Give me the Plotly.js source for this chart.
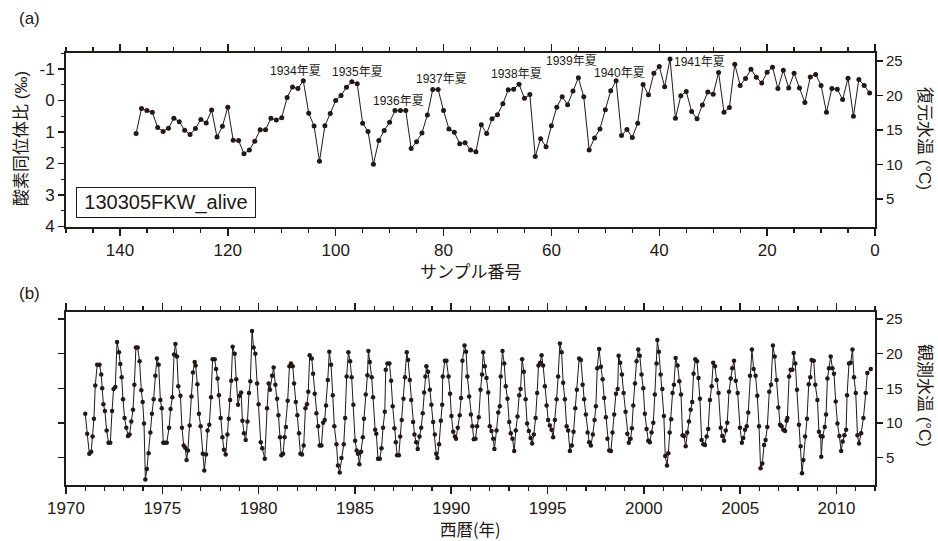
<!DOCTYPE html>
<html><head><meta charset="utf-8">
<script src="https://cdn.plot.ly/plotly-3.0.1.min.js"></script>
<style>html,body{margin:0;padding:0;background:#fff}#chart{width:938px;height:541px}</style>
</head><body><div id="chart"></div>
<script>
// ---- Panel (a): oxygen isotope ratio by sample number ----
const sampleNo = [137,136,135,134,133,132,131,130,129,128,127,126,125,124,123,122,121,120,119,118,117,116,115,114,113,112,111,110,109,108,107,106,105,104,103,102,101,100,
99,98,97,96,95,94,93,92,91,90,89,88,87,86,85,84,83,82,81,80,79,78,77,76,75,74,73,72,71,70,69,68,67,66,65,64,63,62,61,60,59,58,57,56,55,54,53,52,51,
50,49,48,47,46,45,44,43,42,41,40,39,38,37,36,35,34,33,32,31,30,29,28,27,26,25,24,23,22,21,20,19,18,17,16,15,14,13,12,11,10,9,8,7,6,5,4,3,2,1];
const d18O = [1.05,0.25,0.32,0.37,0.86,0.98,0.88,0.56,0.67,0.94,1.08,0.89,0.60,0.71,0.30,1.16,0.82,0.21,1.26,1.27,1.69,1.57,1.29,0.93,0.93,0.56,0.62,0.55,-0.10,-0.43,-0.38,-0.63,0.40,0.81,1.93,0.80,0.41,0.00,
-0.16,-0.42,-0.60,-0.53,0.72,0.98,2.02,1.27,0.95,0.69,0.32,0.32,0.32,1.52,1.31,1.03,0.46,-0.35,-0.35,0.32,0.90,1.01,1.37,1.34,1.57,1.63,0.77,1.05,0.58,0.45,0.10,-0.34,-0.36,-0.52,-0.07,-0.19,1.78,1.21,1.47,0.80,0.21,-0.12,0.13,-0.30,-0.72,-0.12,1.57,1.19,0.90,
0.29,-0.31,-0.63,1.11,0.92,1.17,0.72,-0.51,-0.18,-0.87,-1.08,-0.44,-1.32,0.56,-0.15,-0.29,0.35,0.58,0.14,-0.27,-0.20,-0.89,0.37,0.22,-1.15,-0.48,-0.70,-0.99,-0.74,-0.56,-0.90,-1.06,-0.38,-0.96,-0.40,-0.87,-0.40,0.06,-0.75,-0.83,-0.48,0.37,-0.38,-0.36,-0.03,-0.71,0.50,-0.67,-0.48,-0.24];
const seasonText = ["1934年夏","1935年夏","1936年夏","1937年夏","1938年夏","1939年夏","1940年夏","1941年夏"];
const seasonX = [107.5,95.9,88.4,80.3,66.4,56.2,47.3,32.6];
const seasonY = [-0.95,-0.89,0.0,-0.68,-0.85,-1.24,-0.87,-1.21];

// ---- Panel (b): observed water temperature ----
const bYear = [1971.00,1971.10,1971.21,1971.31,1971.38,1971.45,1971.52,1971.62,1971.74,1971.83,1971.88,1971.94,
1972.02,1972.11,1972.21,1972.30,1972.39,1972.47,1972.56,1972.65,1972.75,1972.82,1972.89,1972.96,
1973.04,1973.13,1973.22,1973.30,1973.39,1973.48,1973.55,1973.63,1973.72,1973.82,1973.91,1973.98,
1974.05,1974.12,1974.20,1974.29,1974.38,1974.46,1974.55,1974.64,1974.72,1974.81,1974.90,1974.97,
1975.05,1975.14,1975.23,1975.35,1975.43,1975.52,1975.61,1975.68,1975.76,1975.83,1975.94,
1976.02,1976.11,1976.19,1976.26,1976.33,1976.42,1976.51,1976.59,1976.68,1976.73,1976.82,1976.90,1976.99,
1977.10,1977.18,1977.27,1977.35,1977.44,1977.53,1977.61,1977.72,1977.79,1977.87,1977.94,
1978.03,1978.12,1978.20,1978.29,1978.38,1978.45,1978.52,1978.58,1978.65,1978.76,1978.84,1978.93,
1979.02,1979.09,1979.16,1979.24,1979.33,1979.42,1979.50,1979.57,1979.66,1979.74,1979.83,1979.92,
1980.00,1980.11,1980.19,1980.32,1980.44,1980.52,1980.59,1980.70,1980.78,1980.87,1980.96,
1981.03,1981.11,1981.18,1981.27,1981.35,1981.42,1981.51,1981.60,1981.68,1981.77,1981.84,1981.93,
1982.01,1982.10,1982.17,1982.25,1982.34,1982.43,1982.51,1982.58,1982.65,1982.76,1982.83,1982.91,
1983.00,1983.09,1983.17,1983.26,1983.35,1983.43,1983.50,1983.59,1983.67,1983.76,1983.85,1983.93,
1984.04,1984.12,1984.21,1984.30,1984.42,1984.49,1984.57,1984.66,1984.75,1984.83,1984.92,
1985.01,1985.09,1985.16,1985.23,1985.32,1985.41,1985.47,1985.56,1985.65,1985.70,1985.77,1985.87,1985.94,
1986.05,1986.11,1986.20,1986.29,1986.38,1986.46,1986.55,1986.60,1986.69,1986.79,1986.88,1986.96,
1987.05,1987.12,1987.19,1987.28,1987.35,1987.43,1987.52,1987.60,1987.69,1987.76,1987.85,1987.92,
1988.02,1988.09,1988.18,1988.26,1988.35,1988.44,1988.52,1988.59,1988.66,1988.71,1988.80,1988.89,1988.97,
1989.06,1989.15,1989.22,1989.28,1989.37,1989.46,1989.53,1989.56,1989.67,1989.75,1989.86,1989.94,
1990.01,1990.10,1990.19,1990.25,1990.34,1990.44,1990.51,1990.58,1990.69,1990.77,1990.84,1990.93,
1991.02,1991.10,1991.17,1991.26,1991.34,1991.43,1991.52,1991.60,1991.66,1991.74,1991.83,1991.92,
1992.00,1992.09,1992.18,1992.24,1992.35,1992.44,1992.52,1992.57,1992.66,1992.75,1992.83,1992.92,
1993.01,1993.09,1993.18,1993.27,1993.35,1993.44,1993.53,1993.60,1993.68,1993.77,1993.86,1993.94,
1994.03,1994.12,1994.20,1994.29,1994.38,1994.46,1994.53,1994.62,1994.69,1994.77,1994.86,1994.95,
1995.03,1995.12,1995.21,1995.29,1995.38,1995.47,1995.55,1995.64,1995.73,1995.81,1995.90,1995.99,
1996.07,1996.16,1996.26,1996.35,1996.44,1996.52,1996.64,1996.73,1996.82,1996.90,1996.99,
1997.08,1997.16,1997.25,1997.35,1997.44,1997.51,1997.58,1997.68,1997.77,1997.86,1997.94,
1998.03,1998.11,1998.20,1998.29,1998.37,1998.46,1998.55,1998.64,1998.69,1998.77,1998.86,1998.95,
1999.05,1999.14,1999.22,1999.31,1999.38,1999.45,1999.54,1999.62,1999.71,1999.79,1999.88,1999.97,
2000.05,2000.14,2000.23,2000.31,2000.40,2000.49,2000.57,2000.66,2000.70,2000.78,2000.87,2000.96,
2001.04,2001.11,2001.20,2001.27,2001.34,2001.42,2001.49,2001.56,2001.65,2001.75,2001.84,2001.93,
2002.01,2002.08,2002.17,2002.25,2002.34,2002.43,2002.51,2002.58,2002.67,2002.76,2002.84,2002.91,
2003.00,2003.09,2003.17,2003.26,2003.34,2003.43,2003.52,2003.60,2003.69,2003.78,2003.88,2003.99,
2004.07,2004.16,2004.25,2004.33,2004.42,2004.51,2004.59,2004.68,2004.77,2004.87,2004.99,
2005.09,2005.16,2005.25,2005.34,2005.42,2005.51,2005.61,2005.70,2005.80,2005.89,2005.98,
2006.06,2006.15,2006.24,2006.32,2006.41,2006.51,2006.60,2006.70,2006.79,2006.89,2006.98,
2007.07,2007.15,2007.24,2007.33,2007.41,2007.45,2007.54,2007.62,2007.71,2007.78,2007.86,2007.95,
2008.05,2008.14,2008.21,2008.28,2008.37,2008.47,2008.56,2008.64,2008.71,2008.82,2008.90,
2009.01,2009.09,2009.18,2009.21,2009.28,2009.39,2009.46,2009.53,2009.61,2009.70,2009.79,2009.87,2009.96,
2010.05,2010.15,2010.24,2010.32,2010.41,2010.50,2010.55,2010.65,2010.74,2010.83,2010.91,
2011.00,2011.09,2011.17,2011.28,2011.40,2011.52,2011.60,2011.78];
const bTemp = [11.3,8.4,5.5,5.8,8.0,10.6,15.4,18.4,18.4,17.0,15.0,12.7,
11.7,8.9,7.1,7.1,11.7,14.9,15.2,21.7,20.2,18.5,16.6,13.4,
10.7,9.3,8.1,8.3,10.2,11.9,15.5,20.9,20.9,18.9,14.7,13.0,
9.9,1.8,3.3,5.6,8.6,11.3,13.4,16.8,19.3,18.4,13.3,12.1,
7.1,7.1,7.1,9.3,12.0,13.7,19.9,21.4,19.6,15.3,13.9,
9.3,6.7,6.4,4.6,6.0,9.6,13.8,17.3,18.8,18.3,15.6,11.3,9.5,
5.5,3.1,5.4,8.9,9.7,13.7,19.2,19.2,17.8,16.4,14.0,
10.7,7.9,6.1,5.4,8.3,10.6,13.3,16.1,21.0,20.0,16.3,12.6,
13.9,14.4,10.3,8.5,7.5,10.2,14.3,16.0,23.3,20.9,20.0,15.7,
12.7,7.2,6.3,4.8,12.1,15.7,14.8,16.8,18.0,15.5,13.5,
11.1,7.9,5.3,5.5,7.9,9.4,13.2,18.2,18.6,18.2,15.7,13.0,
11.1,8.5,5.5,5.4,6.7,12.1,12.7,14.5,19.8,19.3,17.1,14.2,
11.4,9.5,6.7,6.7,10.0,10.4,12.5,16.2,20.3,18.4,14.0,9.5,
6.9,3.8,2.8,4.9,6.9,10.7,16.7,20.2,18.9,16.6,12.6,
7.4,6.0,5.5,4.0,5.8,7.9,10.6,14.1,16.9,20.4,18.8,16.6,13.7,
9.0,8.4,4.8,4.8,6.3,9.3,11.6,17.7,18.6,18.6,16.1,12.4,
9.2,7.2,5.3,5.3,8.0,10.4,13.5,16.6,20.2,19.1,16.2,13.3,
10.1,8.3,7.2,6.2,8.0,9.3,11.4,14.4,16.7,18.2,17.4,14.8,12.6,
10.1,8.3,5.5,4.9,6.9,10.3,12.6,16.7,19.0,19.0,16.7,14.2,
11.0,8.7,8.0,7.7,9.3,11.1,13.6,19.0,21.2,20.3,16.7,13.8,
11.2,9.5,7.6,7.7,9.5,10.8,14.8,17.0,20.2,18.2,16.5,14.4,
9.5,8.8,7.7,6.2,8.9,11.5,12.4,16.7,20.4,18.6,15.3,13.5,
10.1,8.5,7.7,5.9,8.9,10.9,14.0,14.9,19.2,17.4,13.4,9.9,
8.8,7.8,7.0,8.3,10.7,14.3,18.3,18.7,19.8,18.3,15.3,12.5,
10.4,9.6,9.0,7.9,10.4,13.4,16.7,21.5,20.2,15.8,13.4,9.5,
8.9,5.9,6.7,8.7,12.1,14.8,19.3,19.1,15.5,13.4,11.2,
8.6,7.2,6.7,8.3,10.4,12.4,17.9,20.7,18.1,16.3,13.6,
10.8,7.7,6.0,5.9,8.6,11.2,14.2,14.9,19.7,18.7,17.0,14.3,
11.6,8.4,7.1,7.7,9.2,12.5,15.7,18.9,20.6,19.7,17.0,15.0,
11.3,9.1,7.4,7.2,8.6,10.0,14.1,18.6,22.0,20.3,17.0,14.9,
11.0,5.2,3.8,5.6,8.6,10.5,14.3,15.5,19.4,18.3,16.0,14.1,
8.2,8.1,6.6,8.6,10.2,11.9,13.0,17.1,19.2,18.9,16.5,13.5,
7.5,6.9,6.8,8.0,9.1,13.3,15.3,18.7,18.2,16.2,14.3,9.3,
8.1,7.4,8.9,10.0,14.5,16.4,17.9,19.0,16.1,14.3,9.3,
7.1,7.8,9.0,9.5,11.5,16.8,20.6,17.8,16.8,13.9,9.5,
3.4,4.1,6.8,7.5,9.4,14.5,15.5,21.2,19.6,16.2,12.2,
9.7,9.5,9.0,8.8,10.3,10.7,16.7,17.7,17.7,20.1,18.6,14.8,
9.7,6.6,2.7,4.6,8.0,10.6,15.6,16.6,19.1,19.0,15.5,
13.3,8.7,8.1,5.1,8.0,9.4,11.2,16.4,17.9,19.6,17.9,17.1,13.1,
9.9,8.1,5.9,7.3,8.2,9.0,14.0,18.6,18.7,20.6,16.6,
14.3,8.2,7.0,8.5,10.7,14.3,17.2,17.8];

const sampleTicks = [0,20,40,60,80,100,120,140];
const d18OTicks = [-1,0,1,2,3,4];
const d18OTickText = ["-1","0","1","2","3","4"];
const tempTicks = [5,10,15,20,25];
const yearTicks = [1970,1975,1980,1985,1990,1995,2000,2005,2010];

const ink = "#231815";
const numFont = "Liberation Sans, Arial, sans-serif";
const jpFont = "Noto Sans CJK JP, sans-serif";
const mixFont = "Liberation Sans, Noto Sans CJK JP, sans-serif";

const axBase = {
  showgrid:false, zeroline:false, showline:true, linewidth:2, linecolor:ink,
  ticks:"outside", tickcolor:ink, tickwidth:1.5, ticklen:7,
  tickfont:{family:numFont, size:17, color:ink}, fixedrange:true
};
const minorX = (d)=>({dtick:d, ticks:"outside", ticklen:4, tickwidth:1.2, tickcolor:ink, showgrid:false});

const traces = [
  {x:sampleNo, y:d18O, xaxis:"x", yaxis:"y", mode:"lines+markers",
   line:{color:ink, width:1}, marker:{color:ink, size:5}, hoverinfo:"skip"},
  {x:[null], y:[null], xaxis:"x", yaxis:"y2", mode:"markers", hoverinfo:"skip"},
  {x:bYear, y:bTemp, xaxis:"x2", yaxis:"y3", mode:"lines+markers",
   line:{color:ink, width:1}, marker:{color:ink, size:4.5}, hoverinfo:"skip"}
];

const annotations = [];
for (let i=0;i<seasonText.length;i++){
  annotations.push({xref:"x", yref:"y", x:seasonX[i], y:seasonY[i], text:seasonText[i],
    showarrow:false, font:{family:mixFont, size:12, color:ink}, xanchor:"center", yanchor:"middle"});
}
function pAnn(text, x, y, opts){
  return Object.assign({xref:"paper", yref:"paper", x:x, y:y, text:text, showarrow:false,
    xanchor:"center", yanchor:"middle"}, opts);
}
annotations.push(pAnn("(a)", -0.0445, 0.9667, {font:{family:numFont, size:17, color:ink}}));
annotations.push(pAnn("(b)", -0.0445, 0.4566, {font:{family:numFont, size:17, color:ink}}));
annotations.push(pAnn("酸素同位体比 (‰)", -0.0544, 0.745, {textangle:-90, font:{family:mixFont, size:17, color:ink}}));
annotations.push(pAnn("復元水温 (°C)", 1.0606, 0.745, {textangle:90, font:{family:mixFont, size:17, color:ink}}));
annotations.push(pAnn("観測水温 (°C)", 1.0606, 0.27, {textangle:90, font:{family:mixFont, size:17, color:ink}}));
annotations.push(pAnn("サンプル番号", 0.5, 0.5009, {font:{family:jpFont, size:17, color:ink}}));
annotations.push(pAnn("西暦(年)", 0.5, 0.0215, {font:{family:jpFont, size:16.5, color:ink}}));
annotations.push(pAnn("130305FKW_alive", 0.1232, 0.6248, {font:{family:numFont, size:20, color:ink},
  bordercolor:ink, borderwidth:1, borderpad:0, bgcolor:"#ffffff", width:178, height:29}));

const layout = {
  width:938, height:541, margin:{l:66, r:63, t:0, b:0},
  paper_bgcolor:"#ffffff", plot_bgcolor:"#ffffff", showlegend:false,
  xaxis:Object.assign({}, axBase, {domain:[0,1], anchor:"y", range:[150,0],
    tickmode:"array", tickvals:sampleTicks, mirror:"ticks", minor:minorX(5)}),
  yaxis:Object.assign({}, axBase, {domain:[0.5813,0.9015], anchor:"x", range:[4,-1.5],
    tickmode:"array", tickvals:d18OTicks, ticktext:d18OTickText, ticklen:6,
    minor:{dtick:0.5, tick0:0, ticks:"outside", ticklen:3.5, tickwidth:1.2, tickcolor:ink, showgrid:false}}),
  yaxis2:Object.assign({}, axBase, {overlaying:"y", side:"right", anchor:"x", range:[1.0,26.1],
    tickmode:"array", tickvals:tempTicks, ticklen:6, tickfont:{family:numFont, size:15, color:ink}}),
  xaxis2:Object.assign({}, axBase, {domain:[0,1], anchor:"y3", range:[1970,2012],
    tickmode:"array", tickvals:yearTicks, mirror:"ticks", minor:minorX(1)}),
  yaxis3:Object.assign({}, axBase, {domain:[0.1044,0.4227], anchor:"x2", side:"right", range:[1.06,26.0],
    tickmode:"array", tickvals:tempTicks, ticklen:6, mirror:"ticks", tickfont:{family:numFont, size:15, color:ink}}),
  annotations:annotations
};

Plotly.newPlot("chart", traces, layout, {staticPlot:true, displayModeBar:false});
</script>
</body></html>
